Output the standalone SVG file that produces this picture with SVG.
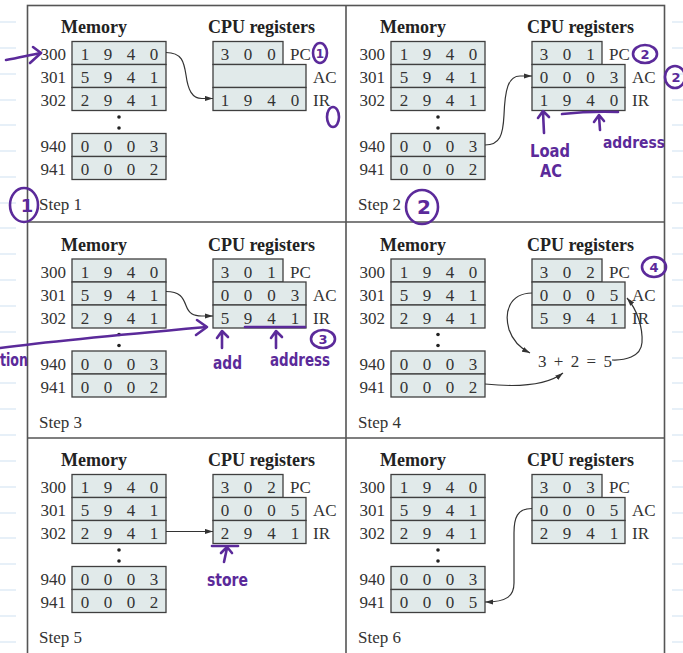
<svg xmlns="http://www.w3.org/2000/svg" width="683" height="653" viewBox="0 0 683 653">
<style>
.bg{fill:#ffffff}
.nb{stroke:#cfe2f2;stroke-width:1.2}
.frame{fill:none;stroke:#555;stroke-width:1.6}
.box{fill:#e1eaea;stroke:#3f3f3f;stroke-width:1.3}
.t{font-family:"Liberation Serif",serif;font-size:17px;fill:#333}
.h{font-family:"Liberation Serif",serif;font-size:18px;font-weight:bold;fill:#222;text-anchor:middle}
.d{text-anchor:middle}
.a{text-anchor:end}
.conn{fill:none;stroke:#333;stroke-width:1.2}
.pen{fill:none;stroke:#5b2a9a;stroke-width:2.6;stroke-linecap:round;stroke-linejoin:round}
.hw{font-family:"DejaVu Sans",sans-serif;font-weight:bold;fill:#5b2a9a}
</style>
<defs>
<marker id="ah" viewBox="0 0 8 6" refX="8" refY="3" markerWidth="8" markerHeight="6" orient="auto" markerUnits="userSpaceOnUse">
<path d="M0,0.4 L8,3 L0,5.6 z" fill="#333"/>
</marker>
</defs>
<rect class="bg" x="0" y="0" width="683" height="653"/>
<g id="notebook-lines">
<path class="nb" d="M0,22H16M0,48H16M0,74H16M0,100H16M0,125H16M0,151H16M0,177H16M0,203H16M0,228H16M0,254H16M0,280H16M0,306H16M0,332H16M0,358H16M0,383H16M0,409H16M0,435H16M0,461H16M0,487H16M0,513H16M0,538H16M0,564H16M0,590H16M0,616H16M0,642H16"/>
<path class="nb" d="M672,22H683M672,48H683M672,74H683M672,100H683M672,125H683M672,151H683M672,177H683M672,203H683M672,228H683M672,254H683M672,280H683M672,306H683M672,332H683M672,358H683M672,383H683M672,409H683M672,435H683M672,461H683M672,487H683M672,513H683M672,538H683M672,564H683M672,590H683M672,616H683M672,642H683"/>
</g>
<g id="frame">
<rect class="frame" x="27.5" y="5.5" width="637" height="660"/>
<path class="frame" d="M346,5.5V665M27.5,222H664.5M27.5,438H664.5"/>
</g>

<!-- Step 1 -->
<g id="step1" transform="translate(0,0)">
<g id="step1-memory">
<text class="h" x="94" y="33">Memory</text>
<rect class="box" x="72" y="41.5" width="94" height="23"/><rect class="box" x="72" y="64.5" width="94" height="23"/><rect class="box" x="72" y="87.5" width="94" height="23"/>
<rect class="box" x="72" y="133.5" width="94" height="23"/><rect class="box" x="72" y="156.5" width="94" height="23"/>
<text class="t a" x="66" y="60">300</text><text class="t a" x="66" y="83">301</text><text class="t a" x="66" y="106">302</text><text class="t a" x="66" y="152">940</text><text class="t a" x="66" y="175">941</text>
<text class="t d" x="85 108 131 154" y="60">1940</text><text class="t d" x="85 108 131 154" y="83">5941</text><text class="t d" x="85 108 131 154" y="106">2941</text><text class="t d" x="85 108 131 154" y="152">0003</text><text class="t d" x="85 108 131 154" y="175">0002</text>
<circle cx="119" cy="117" r="1.8" fill="#222"/><circle cx="119" cy="128" r="1.8" fill="#222"/>
</g>
<g id="step1-registers">
<text class="h" x="261.5" y="33">CPU registers</text>
<rect class="box" x="213" y="41.5" width="70" height="23"/><rect class="box" x="213" y="64.5" width="93" height="23"/><rect class="box" x="213" y="87.5" width="93" height="23"/>
<text class="t d" x="225 248 271.5" y="60">300</text>
<text class="t d" x="225 248 271.5 295" y="106">1940</text>
<text class="t" x="290" y="60">PC</text><text class="t" x="313" y="83">AC</text><text class="t" x="313" y="106">IR</text>
</g>
<text class="t" x="39" y="210">Step 1</text>
</g>

<!-- Step 2 -->
<g id="step2" transform="translate(319,0)">
<g id="step2-memory">
<text class="h" x="94" y="33">Memory</text>
<rect class="box" x="72" y="41.5" width="94" height="23"/><rect class="box" x="72" y="64.5" width="94" height="23"/><rect class="box" x="72" y="87.5" width="94" height="23"/>
<rect class="box" x="72" y="133.5" width="94" height="23"/><rect class="box" x="72" y="156.5" width="94" height="23"/>
<text class="t a" x="66" y="60">300</text><text class="t a" x="66" y="83">301</text><text class="t a" x="66" y="106">302</text><text class="t a" x="66" y="152">940</text><text class="t a" x="66" y="175">941</text>
<text class="t d" x="85 108 131 154" y="60">1940</text><text class="t d" x="85 108 131 154" y="83">5941</text><text class="t d" x="85 108 131 154" y="106">2941</text><text class="t d" x="85 108 131 154" y="152">0003</text><text class="t d" x="85 108 131 154" y="175">0002</text>
<circle cx="119" cy="117" r="1.8" fill="#222"/><circle cx="119" cy="128" r="1.8" fill="#222"/>
</g>
<g id="step2-registers">
<text class="h" x="261.5" y="33">CPU registers</text>
<rect class="box" x="213" y="41.5" width="70" height="23"/><rect class="box" x="213" y="64.5" width="93" height="23"/><rect class="box" x="213" y="87.5" width="93" height="23"/>
<text class="t d" x="225 248 271.5" y="60">301</text>
<text class="t d" x="225 248 271.5 295" y="83">0003</text>
<text class="t d" x="225 248 271.5 295" y="106">1940</text>
<text class="t" x="290" y="60">PC</text><text class="t" x="313" y="83">AC</text><text class="t" x="313" y="106">IR</text>
</g>
<text class="t" x="39" y="210">Step 2</text>
</g>

<!-- Step 3 -->
<g id="step3" transform="translate(0,217.5)">
<g id="step3-memory">
<text class="h" x="94" y="33">Memory</text>
<rect class="box" x="72" y="41.5" width="94" height="23"/><rect class="box" x="72" y="64.5" width="94" height="23"/><rect class="box" x="72" y="87.5" width="94" height="23"/>
<rect class="box" x="72" y="133.5" width="94" height="23"/><rect class="box" x="72" y="156.5" width="94" height="23"/>
<text class="t a" x="66" y="60">300</text><text class="t a" x="66" y="83">301</text><text class="t a" x="66" y="106">302</text><text class="t a" x="66" y="152">940</text><text class="t a" x="66" y="175">941</text>
<text class="t d" x="85 108 131 154" y="60">1940</text><text class="t d" x="85 108 131 154" y="83">5941</text><text class="t d" x="85 108 131 154" y="106">2941</text><text class="t d" x="85 108 131 154" y="152">0003</text><text class="t d" x="85 108 131 154" y="175">0002</text>
<circle cx="119" cy="117" r="1.8" fill="#222"/><circle cx="119" cy="128" r="1.8" fill="#222"/>
</g>
<g id="step3-registers">
<text class="h" x="261.5" y="33">CPU registers</text>
<rect class="box" x="213" y="41.5" width="70" height="23"/><rect class="box" x="213" y="64.5" width="93" height="23"/><rect class="box" x="213" y="87.5" width="93" height="23"/>
<text class="t d" x="225 248 271.5" y="60">301</text>
<text class="t d" x="225 248 271.5 295" y="83">0003</text>
<text class="t d" x="225 248 271.5 295" y="106">5941</text>
<text class="t" x="290" y="60">PC</text><text class="t" x="313" y="83">AC</text><text class="t" x="313" y="106">IR</text>
</g>
<text class="t" x="39" y="210">Step 3</text>
</g>

<!-- Step 4 -->
<g id="step4" transform="translate(319,217.5)">
<g id="step4-memory">
<text class="h" x="94" y="33">Memory</text>
<rect class="box" x="72" y="41.5" width="94" height="23"/><rect class="box" x="72" y="64.5" width="94" height="23"/><rect class="box" x="72" y="87.5" width="94" height="23"/>
<rect class="box" x="72" y="133.5" width="94" height="23"/><rect class="box" x="72" y="156.5" width="94" height="23"/>
<text class="t a" x="66" y="60">300</text><text class="t a" x="66" y="83">301</text><text class="t a" x="66" y="106">302</text><text class="t a" x="66" y="152">940</text><text class="t a" x="66" y="175">941</text>
<text class="t d" x="85 108 131 154" y="60">1940</text><text class="t d" x="85 108 131 154" y="83">5941</text><text class="t d" x="85 108 131 154" y="106">2941</text><text class="t d" x="85 108 131 154" y="152">0003</text><text class="t d" x="85 108 131 154" y="175">0002</text>
<circle cx="119" cy="117" r="1.8" fill="#222"/><circle cx="119" cy="128" r="1.8" fill="#222"/>
</g>
<g id="step4-registers">
<text class="h" x="261.5" y="33">CPU registers</text>
<rect class="box" x="213" y="41.5" width="70" height="23"/><rect class="box" x="213" y="64.5" width="93" height="23"/><rect class="box" x="213" y="87.5" width="93" height="23"/>
<text class="t d" x="225 248 271.5" y="60">302</text>
<text class="t d" x="225 248 271.5 295" y="83">0005</text>
<text class="t d" x="225 248 271.5 295" y="106">5941</text>
<text class="t" x="290" y="60">PC</text><text class="t" x="313" y="83">AC</text><text class="t" x="313" y="106">IR</text>
</g>
<g id="step4-sum">
<text class="t" x="219" y="149.5" textLength="74" lengthAdjust="spacing">3 + 2 = 5</text>
</g>
<text class="t" x="39" y="210">Step 4</text>
</g>

<!-- Step 5 -->
<g id="step5" transform="translate(0,433)">
<g id="step5-memory">
<text class="h" x="94" y="33">Memory</text>
<rect class="box" x="72" y="41.5" width="94" height="23"/><rect class="box" x="72" y="64.5" width="94" height="23"/><rect class="box" x="72" y="87.5" width="94" height="23"/>
<rect class="box" x="72" y="133.5" width="94" height="23"/><rect class="box" x="72" y="156.5" width="94" height="23"/>
<text class="t a" x="66" y="60">300</text><text class="t a" x="66" y="83">301</text><text class="t a" x="66" y="106">302</text><text class="t a" x="66" y="152">940</text><text class="t a" x="66" y="175">941</text>
<text class="t d" x="85 108 131 154" y="60">1940</text><text class="t d" x="85 108 131 154" y="83">5941</text><text class="t d" x="85 108 131 154" y="106">2941</text><text class="t d" x="85 108 131 154" y="152">0003</text><text class="t d" x="85 108 131 154" y="175">0002</text>
<circle cx="119" cy="117" r="1.8" fill="#222"/><circle cx="119" cy="128" r="1.8" fill="#222"/>
</g>
<g id="step5-registers">
<text class="h" x="261.5" y="33">CPU registers</text>
<rect class="box" x="213" y="41.5" width="70" height="23"/><rect class="box" x="213" y="64.5" width="93" height="23"/><rect class="box" x="213" y="87.5" width="93" height="23"/>
<text class="t d" x="225 248 271.5" y="60">302</text>
<text class="t d" x="225 248 271.5 295" y="83">0005</text>
<text class="t d" x="225 248 271.5 295" y="106">2941</text>
<text class="t" x="290" y="60">PC</text><text class="t" x="313" y="83">AC</text><text class="t" x="313" y="106">IR</text>
</g>
<text class="t" x="39" y="210">Step 5</text>
</g>

<!-- Step 6 -->
<g id="step6" transform="translate(319,433)">
<g id="step6-memory">
<text class="h" x="94" y="33">Memory</text>
<rect class="box" x="72" y="41.5" width="94" height="23"/><rect class="box" x="72" y="64.5" width="94" height="23"/><rect class="box" x="72" y="87.5" width="94" height="23"/>
<rect class="box" x="72" y="133.5" width="94" height="23"/><rect class="box" x="72" y="156.5" width="94" height="23"/>
<text class="t a" x="66" y="60">300</text><text class="t a" x="66" y="83">301</text><text class="t a" x="66" y="106">302</text><text class="t a" x="66" y="152">940</text><text class="t a" x="66" y="175">941</text>
<text class="t d" x="85 108 131 154" y="60">1940</text><text class="t d" x="85 108 131 154" y="83">5941</text><text class="t d" x="85 108 131 154" y="106">2941</text><text class="t d" x="85 108 131 154" y="152">0003</text><text class="t d" x="85 108 131 154" y="175">0005</text>
<circle cx="119" cy="117" r="1.8" fill="#222"/><circle cx="119" cy="128" r="1.8" fill="#222"/>
</g>
<g id="step6-registers">
<text class="h" x="261.5" y="33">CPU registers</text>
<rect class="box" x="213" y="41.5" width="70" height="23"/><rect class="box" x="213" y="64.5" width="93" height="23"/><rect class="box" x="213" y="87.5" width="93" height="23"/>
<text class="t d" x="225 248 271.5" y="60">303</text>
<text class="t d" x="225 248 271.5 295" y="83">0005</text>
<text class="t d" x="225 248 271.5 295" y="106">2941</text>
<text class="t" x="290" y="60">PC</text><text class="t" x="313" y="83">AC</text><text class="t" x="313" y="106">IR</text>
</g>
<text class="t" x="39" y="210">Step 6</text>
</g>

<g id="connectors">
<path class="conn" marker-end="url(#ah)" d="M166,52.5 C182,52.5 184,62 186,75 C188,90 192,98.5 202,98.5 L213,98.5"/>
<path class="conn" marker-end="url(#ah)" d="M485,145 C500,145 503,135 504,115 C505,90 508,76 520,76 L532,76"/>
<g transform="translate(0,217.5)">
<path class="conn" marker-end="url(#ah)" d="M166,74 C180,74 183,80 186,88 C189,96 193,98.5 202,98.5 L213,98.5"/>
</g>
<g transform="translate(319,217.5)">
<path class="conn" marker-end="url(#ah)" d="M213,75.5 C190,76 185,95 190,112 C194,124 202,131 211,135.5"/>
<path class="conn" marker-end="url(#ah)" d="M166,166.5 C190,169 225,170 244,155.5"/>
<path class="conn" marker-end="url(#ah)" d="M293,142.5 C305,143 322,140 323,125 C324,110 318,92 308,80.5"/>
</g>
<g transform="translate(0,433)">
<path class="conn" marker-end="url(#ah)" d="M166,98.5 L213,98.5"/>
</g>
<g transform="translate(319,433)">
<path class="conn" marker-end="url(#ah)" d="M213,75.5 C198,75.5 195,85 195,100 L195,150 C195,163 188,169 166,169"/>
</g>
</g>

<g id="annotations">
<path class="pen" d="M6,60 C18,58 30,55 41,53"/>
<path class="pen" d="M33,47 L41,53 L30,63"/>
<ellipse class="pen" cx="320" cy="53" rx="7" ry="10"/>
<text class="hw" x="320" y="58" font-size="12" text-anchor="middle">1</text>
<ellipse class="pen" cx="333" cy="117" rx="6" ry="10"/>
<ellipse class="pen" cx="24" cy="205" rx="14" ry="17"/>
<text class="hw" x="27" y="212" font-size="18" text-anchor="middle">1</text>

<ellipse class="pen" cx="645" cy="54" rx="12" ry="9"/>
<text class="hw" x="645" y="59" font-size="13" text-anchor="middle">2</text>
<ellipse class="pen" cx="675" cy="77" rx="10" ry="11"/>
<text class="hw" x="676" y="82" font-size="13" text-anchor="middle">2</text>
<path class="pen" d="M544,133 L543,112 M538,118 L543,111 L549,117"/>
<text class="hw" x="530" y="157" font-size="17" textLength="40" lengthAdjust="spacingAndGlyphs">Load</text>
<text class="hw" x="540" y="177" font-size="17" textLength="22" lengthAdjust="spacingAndGlyphs">AC</text>
<path class="pen" d="M562,114 Q590,111 618,112"/>
<path class="pen" d="M600,130 L599,116 M594,122 L599,115 L604,121"/>
<text class="hw" x="603" y="148" font-size="16" textLength="62" lengthAdjust="spacingAndGlyphs">address</text>
<ellipse class="pen" cx="422" cy="207" rx="16" ry="17"/>
<text class="hw" x="424" y="214" font-size="20" text-anchor="middle">2</text>

<path class="pen" d="M0,348 C60,340 150,332 206,327"/>
<path class="pen" d="M197,320 L207,327 L196,335"/>
<text class="hw" x="0" y="366" font-size="17" textLength="28" lengthAdjust="spacingAndGlyphs">tion</text>
<path class="pen" d="M222,348 L222,332 M217,338 L222,331 L228,337"/>
<text class="hw" x="213" y="369" font-size="18" textLength="29" lengthAdjust="spacingAndGlyphs">add</text>
<path class="pen" d="M245,327 L305,327"/>
<path class="pen" d="M276,348 L276,332 M271,338 L276,331 L282,337"/>
<text class="hw" x="270" y="366" font-size="17" textLength="60" lengthAdjust="spacingAndGlyphs">address</text>
<ellipse class="pen" cx="323" cy="339" rx="12" ry="9"/>
<text class="hw" x="323" y="344" font-size="13" text-anchor="middle">3</text>

<ellipse class="pen" cx="654" cy="267" rx="12" ry="10"/>
<text class="hw" x="654" y="272" font-size="13" text-anchor="middle">4</text>

<path class="pen" d="M212,546 L238,546"/>
<path class="pen" d="M224,562 L227,548 M221,553 L227,547 L232,553"/>
<text class="hw" x="207" y="586" font-size="17" textLength="41" lengthAdjust="spacingAndGlyphs">store</text>
</g>
</svg>
